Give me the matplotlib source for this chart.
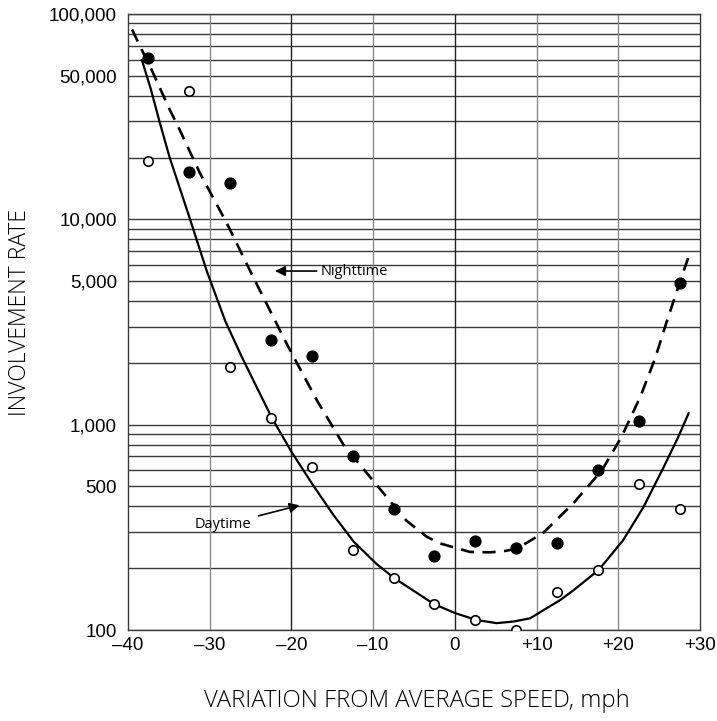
import numpy as np
import matplotlib
matplotlib.use('Agg')
from matplotlib import pyplot as plt

# speed bins (mph from average) and involvement rates
speed = [-37.5, -32.5, -27.5, -22.5, -17.5, -12.5, -7.5, -2.5, 2.5, 7.5, 12.5, 17.5, 22.5, 27.5]
night_rate = [61000, 17000, 15000, 2580, 2150, 700, 390, 230, 270, 250, 265, 600, 1040, 4900]
day_rate = [19300, 42000, 1900, 1080, 625, 246, 180, 134, 112, 100, 153, 197, 514, 388]

# fitted curves
night_curve_x = [-39.5, -38.7, -37.1, -34.86, -33.85, -31.2, -27.9, -24.7, -20.4, -16.9, -13.65,
                 -9.6, -5.9, -3.4, -1.8, 1.85, 4.3, 6.0, 7.6, 10.8, 14.5, 18.0, 20.4, 22.7,
                 24.5, 25.9, 27.5, 28.6]
night_curve_y = [84000, 72000, 53400, 34000, 28250, 16800, 9560, 5250, 2400, 1318, 800,
                 510, 340, 284, 264, 240, 239, 242, 249, 297, 414, 600, 873, 1368,
                 2100, 3150, 4900, 6570]
day_curve_x = [-38.3, -37.2, -36.1, -34.9, -32.4, -30.4, -28.1, -26.1, -22.4, -20.0, -17.5,
               -14.9, -12.4, -9.6, -7.5, -2.6, 0.0, 2.6, 5.1, 7.2, 9.2, 12.9, 14.5, 17.6, 20.6,
               23.1, 25.5, 27.35, 28.6]
day_curve_y = [59700, 43000, 29500, 20000, 10000, 5660, 3200, 2150, 1080, 738, 518,
               365, 270, 210, 180, 134, 121, 112, 108, 110, 114, 140, 156, 196, 274,
               398, 615, 873, 1135]

x_ticks = [-40, -30, -20, -10, 0, 10, 20, 30]
x_labels = ['\u201340', '\u201330', '\u201320', '\u201310', '0', '+10', '+20', '+30']
y_ticks = [100, 500, 1000, 5000, 10000, 50000, 100000]
y_labels = ['100', '500', '1,000', '5,000', '10,000', '50,000', '100,000']

fig = plt.figure(figsize=(7.17, 7.21), dpi=100)
ax = fig.add_axes([0.1785, 0.1262, 0.7978, 0.8544])
ax.set_yscale('log')
ax.set_xlim(-40, 30)
ax.set_ylim(100, 100000)

# grid: every 1..9 step of each decade, verticals every 10 mph
grid_y = [m * 10 ** d for d in range(2, 5) for m in range(1, 10)] + [100000]
for g in grid_y:
    ax.axhline(g, color='#3a3a3a', lw=1.0, zorder=1)
for gx, c in zip([-30, -20, -10, 0, 10, 20], ['#8a8a8a', '#222222', '#8a8a8a', '#222222', '#8a8a8a', '#8a8a8a']):
    ax.axvline(gx, color=c, lw=1.0, zorder=1)

for s in ax.spines.values():
    s.set_color('#3a3a3a')
    s.set_linewidth(1.0)

ax.plot(day_curve_x, day_curve_y, color='black', lw=1.6, zorder=3, solid_joinstyle='round')
ax.plot(night_curve_x, night_curve_y, color='black', lw=1.9, linestyle=(0, (5, 3.2)), zorder=3)
ax.plot(speed, night_rate, 'o', color='black', markersize=7.8, zorder=4)
ax.plot(speed, day_rate, 'o', markerfacecolor='white', markeredgecolor='black',
        markersize=6.8, markeredgewidth=1.2, zorder=4)

ax.set_xticks(x_ticks)
ax.set_xticklabels(x_labels)
ax.set_yticks(y_ticks)
ax.set_yticklabels(y_labels)
ax.minorticks_off()
ax.tick_params(length=0, labelsize=13.5)
ax.tick_params(axis='y', pad=8)
ax.tick_params(axis='x', pad=5)
for lab in ax.get_xticklabels() + ax.get_yticklabels():
    lab.set_family('Liberation Sans')

ax.set_xlabel('VARIATION FROM AVERAGE SPEED, mph', family='Open Sans', fontsize=17.2, fontweight='light')
ax.set_ylabel('INVOLVEMENT RATE', family='Open Sans', fontsize=16.5, fontweight='light')
ax.xaxis.set_label_coords(0.505, -0.095)
ax.yaxis.set_label_coords(-0.168, 0.516)

ax.annotate('Nighttime', xy=(-22.0, 5600), xytext=(-16.4, 5600), family='Open Sans', fontsize=10.5,
            va='center', ha='left',
            arrowprops=dict(arrowstyle='-|>', color='black', lw=1.2, mutation_scale=15, shrinkA=1, shrinkB=0))
ax.annotate('Daytime', xy=(-19.0, 405), xytext=(-31.8, 325), family='Open Sans', fontsize=10.5,
            va='center', ha='left',
            arrowprops=dict(arrowstyle='-|>', color='black', lw=1.2, mutation_scale=15, shrinkA=3, shrinkB=0))

plt.savefig('out.png', dpi=100)
